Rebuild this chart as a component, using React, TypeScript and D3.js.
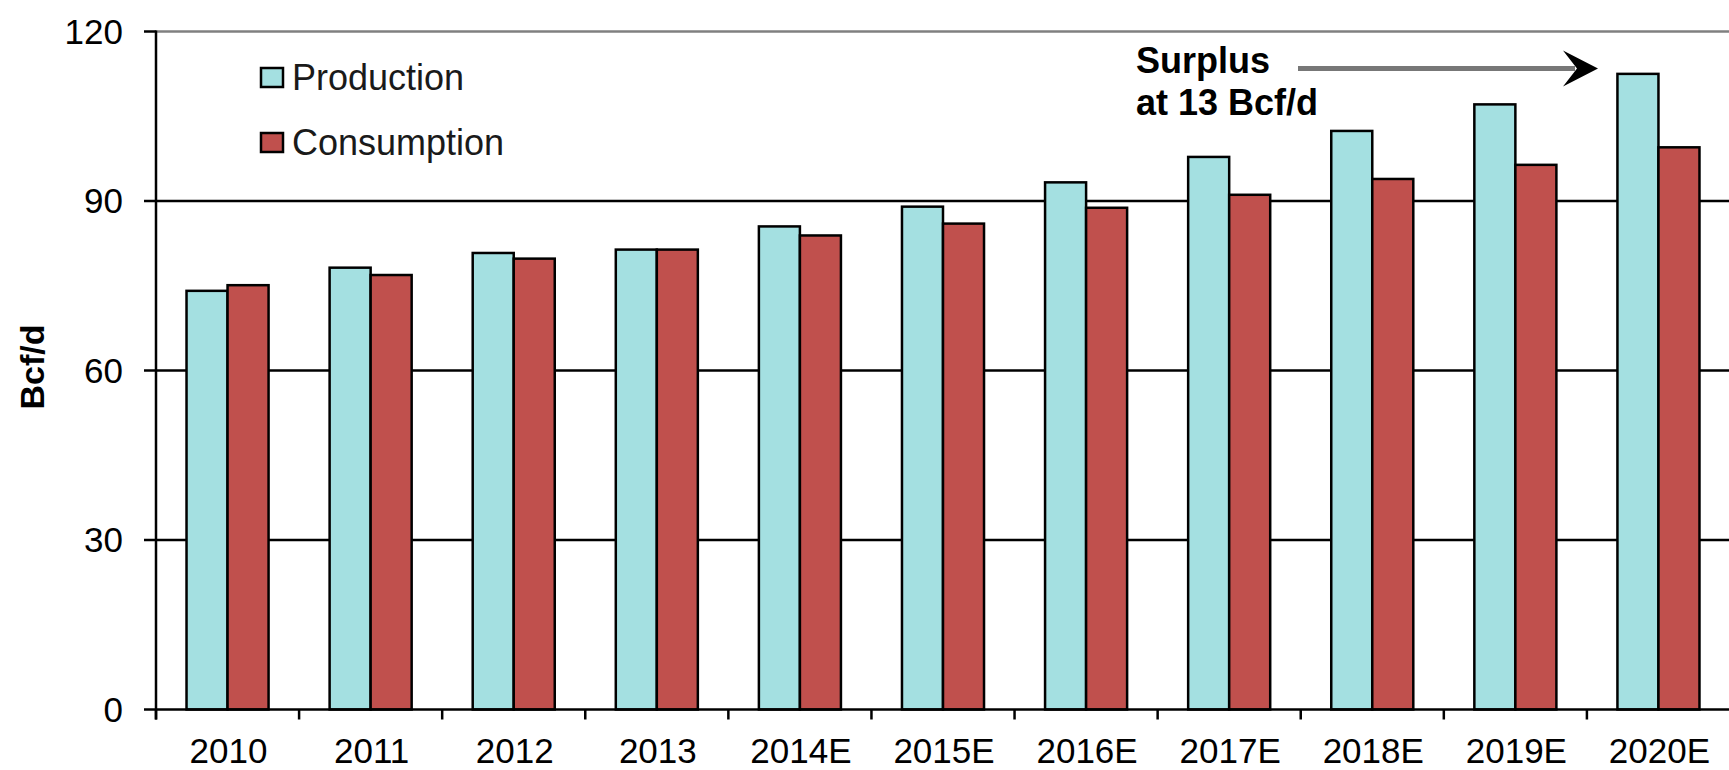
import React from 'react';
import * as d3 from 'd3';

const years = ['2010', '2011', '2012', '2013', '2014E', '2015E', '2016E', '2017E', '2018E', '2019E', '2020E'];
const production = [74.1, 78.2, 80.8, 81.4, 85.5, 89.0, 93.3, 97.8, 102.4, 107.1, 112.5];
const consumption = [75.1, 76.9, 79.8, 81.4, 83.9, 86.0, 88.8, 91.1, 93.9, 96.4, 99.5];
const seriesNames = ['Production', 'Consumption'];
const seriesColors = ['#A4E0E1', '#C0504D'];
const yTicks = [0, 30, 60, 90, 120];

const W = 1729;
const H = 770;
const FONT = '"Liberation Sans", Arial, sans-serif';

const App = () => {
  const margin = { top: 31.5, left: 156, bottom: 709.5, right: 1730 };

  const x = d3.scaleBand<string>().domain(years).range([margin.left, margin.right]).padding(0);
  const xs = d3.scaleBand<string>().domain(seriesNames).range([0, x.bandwidth()]).paddingInner(0).paddingOuter(0.744);
  const y = d3.scaleLinear().domain([0, 120]).range([margin.bottom, margin.top]);

  const rows = years.map((yr, i) => ({ yr, values: [production[i], consumption[i]] }));

  // tick marks sit on band edges
  const edges = years.map(yr => x(yr)!);

  const arrowY = 68.5;

  return (
    <svg width={W} height={H} style={{ position: 'absolute', left: 0, top: 0, background: '#fff' }} fontFamily={FONT}>
      {/* gridlines */}
      {yTicks.filter(t => t > 0 && t < 120).map(t => (
        <line key={t} x1={margin.left - 12} x2={W} y1={y(t)} y2={y(t)} stroke="#000" strokeWidth={2.5} />
      ))}
      <line x1={margin.left} x2={W} y1={y(120)} y2={y(120)} stroke="#808080" strokeWidth={2.5} />
      <line x1={margin.left - 12} x2={margin.left} y1={y(120)} y2={y(120)} stroke="#000" strokeWidth={2.5} />

      {/* bars */}
      {rows.map(r => (
        <g key={r.yr} transform={`translate(${x(r.yr)},0)`}>
          {r.values.map((v, j) => (
            <rect key={j}
              x={xs(seriesNames[j])!}
              y={y(v)}
              width={xs.bandwidth()}
              height={y(0) - y(v)}
              fill={seriesColors[j]}
              stroke="#000"
              strokeWidth={2.5} />
          ))}
        </g>
      ))}

      {/* axes */}
      <line x1={margin.left} x2={margin.left} y1={y(120) - 1} y2={y(0) + 10} stroke="#000" strokeWidth={2.5} />
      <line x1={margin.left - 12} x2={W} y1={y(0)} y2={y(0)} stroke="#000" strokeWidth={2.5} />
      {edges.map((e, i) => (
        <line key={i} x1={e} x2={e} y1={y(0)} y2={y(0) + 10} stroke="#000" strokeWidth={2.5} />
      ))}
      {yTicks.map(t => (
        <text key={t} x={123} y={y(t)} dy="0.35em" textAnchor="end" fontSize={35} fill="#000">{t}</text>
      ))}
      {years.map(yr => (
        <text key={yr} x={x(yr)! + x.bandwidth() / 2 + 1} y={763} textAnchor="middle" fontSize={35} fill="#000">{yr}</text>
      ))}
      <text transform={`translate(44,367) rotate(-90)`} textAnchor="middle" fontSize={34} fontWeight="bold" fill="#000">Bcf/d</text>

      {/* legend */}
      {seriesNames.map((s, i) => (
        <g key={s} transform={`translate(261,${68 + i * 65})`}>
          <rect x={0} y={0} width={22} height={19} fill={seriesColors[i]} stroke="#000" strokeWidth={2.5} />
          <text x={31} y={22} fontSize={36} fill="#1a1a1a">{s}</text>
        </g>
      ))}

      {/* annotation */}
      <text x={1136} y={73} fontSize={36} fontWeight="bold" fill="#000">Surplus</text>
      <text x={1136} y={115} fontSize={36} fontWeight="bold" fill="#000">at 13 Bcf/d</text>
      <line x1={1298} x2={1575} y1={arrowY} y2={arrowY} stroke="#777" strokeWidth={5} />
      <path d={`M1598,${arrowY} L1563,${arrowY - 18} L1577,${arrowY} L1563,${arrowY + 18} Z`} fill="#000" />
    </svg>
  );
};

export default App;
